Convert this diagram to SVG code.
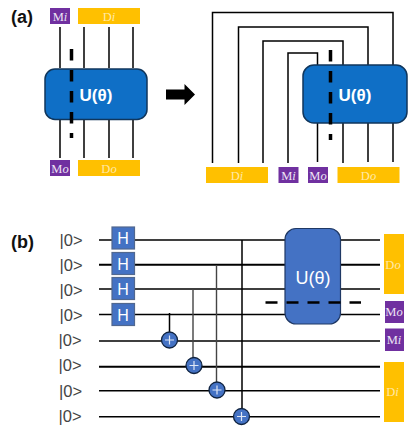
<svg xmlns="http://www.w3.org/2000/svg" width="408" height="438" viewBox="0 0 408 438">
<style>
.w{fill:none;stroke:#000;stroke-width:1.5}
.wb{fill:none;stroke:#000;stroke-width:2}
.g{fill:none;stroke:#444;stroke-width:1.4}
.dash{fill:none;stroke:#000;stroke-width:3.5;stroke-dasharray:11.500 9.500}
.y{fill:#ffc000}
.p{fill:#7030a0}
.lb{font-family:"Liberation Serif",serif;font-size:12.500px;text-anchor:middle}
.ly{fill:#ffe9a8}
.lp{fill:#ece4f4}
.i{font-style:italic}
.u{fill:#0f6fc6;stroke:#10365c;stroke-width:1.5}
.u2{fill:#4472c4;stroke:#1f3864;stroke-width:1.2}
.ut{font-family:"Liberation Sans",sans-serif;font-size:17px;font-weight:bold;fill:#fff;text-anchor:middle}
.ket{font-family:"Liberation Sans",sans-serif;font-size:16.500px;fill:#444}
.h{fill:#4472c4;stroke:#51688f;stroke-width:1.200}
.ht{font-family:"Liberation Sans",sans-serif;font-size:16px;fill:#fff;text-anchor:middle}
.c{fill:#4472c4;stroke:#10233f;stroke-width:1.3}
.plus{stroke:#dfe7f5;stroke-width:1.2;fill:none}
.tag{font-family:"Liberation Sans",sans-serif;font-size:18px;font-weight:bold;fill:#111}
</style>
<defs>
<g id="cx"><circle r="8" class="c"/><path d="M-4.500 0H4.500M0 -4.500V4.500" class="plus"/></g>
</defs>
<text class="tag" x="11" y="23">(a)</text>
<text class="tag" x="11" y="248">(b)</text>

<g id="connectors">
<path class="w" d="M60 27V68M84 27V68M109 27V68M133 27V68M60 120V158M84 120V158M109 120V158M133 120V158"/>
<path class="w" d="M212.500 163V12.500H393V65M238.500 163V27H368V65M263 163V41H343V65M288 163V53H317.500V65M317.500 123V162M343 123V163M368 123V162M393 123V162"/>
<path class="w" d="M99 240H380M99 289H380M99 314.500H380M99 341H380M99 390.700H380M99 416.700H380"/>
<path class="wb" d="M99 264.700H380M99 366.700H380"/>
<path class="w" d="M169.500 313V332M242 240V408"/>
<path class="g" d="M193 289V358M216.500 265V382"/>
</g>

<g id="node-a-u">
<rect class="u" x="45" y="69" width="102" height="50.500" rx="10"/>
<text class="ut" x="96" y="101">U(θ)</text>
</g>
<path class="dash" d="M71.500 49V138"/>
<g id="node-a-mi"><rect class="p" x="50" y="8" width="20" height="16"/><text class="lb lp" x="60" y="20.500">M<tspan class="i">i</tspan></text></g>
<g id="node-a-di"><rect class="y" x="78" y="8" width="62" height="16"/><text class="lb ly" x="109" y="20.500">D<tspan class="i">i</tspan></text></g>
<g id="node-a-mo"><rect class="p" x="50" y="160" width="20" height="16"/><text class="lb lp" x="60" y="172.500">M<tspan class="i">o</tspan></text></g>
<g id="node-a-do"><rect class="y" x="78" y="160" width="62" height="16"/><text class="lb ly" x="109" y="172.500">D<tspan class="i">o</tspan></text></g>

<g id="arrow"><polygon points="166,89.500 184.500,89.500 184.500,84 195,94.500 184.500,105 184.500,99.500 166,99.500" fill="#000"/></g>

<g id="node-a2-u">
<rect class="u" x="303" y="65" width="104" height="58" rx="11"/>
<text class="ut" x="355" y="101">U(θ)</text>
</g>
<path class="dash" d="M330.500 50V140"/>
<g id="node-a2-di"><rect class="y" x="206" y="167" width="62" height="16"/><text class="lb ly" x="237" y="179.500">D<tspan class="i">i</tspan></text></g>
<g id="node-a2-mi"><rect class="p" x="278.500" y="167" width="20" height="16"/><text class="lb lp" x="288.500" y="179.500">M<tspan class="i">i</tspan></text></g>
<g id="node-a2-mo"><rect class="p" x="308" y="167" width="20" height="16"/><text class="lb lp" x="318" y="179.500">M<tspan class="i">o</tspan></text></g>
<g id="node-a2-do"><rect class="y" x="337.500" y="167" width="62" height="16"/><text class="lb ly" x="368.500" y="179.500">D<tspan class="i">o</tspan></text></g>

<g id="kets">
<text class="ket" x="59.500" y="246">|0&gt;</text>
<text class="ket" x="59.500" y="271">|0&gt;</text>
<text class="ket" x="59.500" y="296">|0&gt;</text>
<text class="ket" x="59.500" y="321">|0&gt;</text>
<text class="ket" x="58.500" y="346">|0&gt;</text>
<text class="ket" x="58.500" y="371">|0&gt;</text>
<text class="ket" x="59" y="397">|0&gt;</text>
<text class="ket" x="58.500" y="422">|0&gt;</text>
</g>

<g id="node-h1"><rect class="h" x="112" y="227" width="22.500" height="22"/><text class="ht" x="123" y="244">H</text></g>
<g id="node-h2"><rect class="h" x="112" y="252.500" width="22.500" height="22"/><text class="ht" x="123" y="269.500">H</text></g>
<g id="node-h3"><rect class="h" x="112" y="277.500" width="22.500" height="22"/><text class="ht" x="123" y="294.500">H</text></g>
<g id="node-h4"><rect class="h" x="112" y="303.500" width="22.500" height="22"/><text class="ht" x="123" y="320.500">H</text></g>

<g id="node-cx1"><use href="#cx" x="169.500" y="340"/></g>
<g id="node-cx2"><use href="#cx" x="194" y="365.500"/></g>
<g id="node-cx3"><use href="#cx" x="217" y="390"/></g>
<g id="node-cx4"><use href="#cx" x="241.500" y="416.500"/></g>

<g id="node-b-u">
<rect class="u2" x="285" y="228.500" width="55.500" height="95.500" rx="11"/>
<text class="ut" style="font-weight:normal;font-size:18px" x="313" y="284">U(θ)</text>
</g>
<path class="dash" style="stroke-width:2.500;stroke-dasharray:12 9" d="M265.500 302.500H361"/>

<g id="node-b-do"><rect class="y" x="384" y="234" width="20" height="60"/><text class="lb ly" x="393" y="269">D<tspan class="i">o</tspan></text></g>
<g id="node-b-mo"><rect class="p" x="385" y="301" width="19" height="22"/><text class="lb lp" x="394" y="316">M<tspan class="i">o</tspan></text></g>
<g id="node-b-mi"><rect class="p" x="385" y="328.500" width="19" height="22.500"/><text class="lb lp" x="394" y="344">M<tspan class="i">i</tspan></text></g>
<g id="node-b-di"><rect class="y" x="384" y="362" width="20" height="60"/><text class="lb ly" x="392.500" y="396">D<tspan class="i">i</tspan></text></g>
</svg>
